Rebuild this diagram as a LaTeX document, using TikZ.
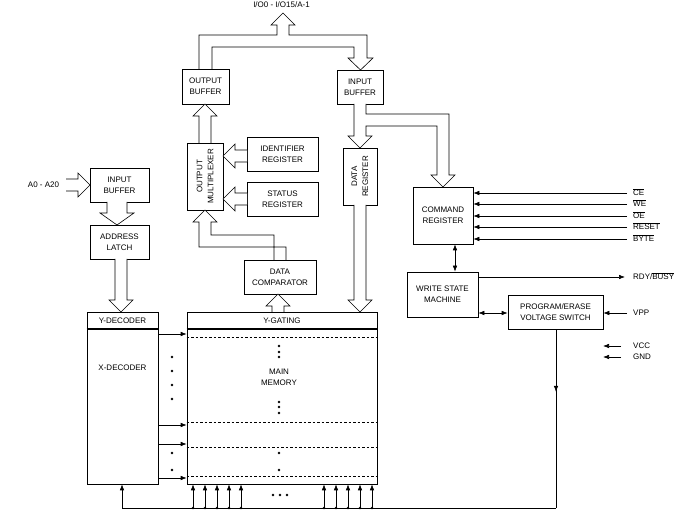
\documentclass[tikz,border=0pt]{standalone}
\usepackage{fontspec}
\setmainfont{Liberation Sans}
\usetikzlibrary{arrows.meta,decorations.markings}
\newcommand{\ovl}[1]{$\overline{\mbox{#1}}$}

\begin{document}
\begin{tikzpicture}[x=1pt,y=-1pt,
  font=\fontsize{8}{11}\selectfont,
  blk/.style={draw,line width=0.6pt,align=center,inner sep=0pt},
  bus/.style={draw,fill=white,line width=0.6pt,line join=miter},
  sig/.style={line width=0.6pt,-{Latex[length=6pt,width=4.5pt]}},
  sigtwo/.style={line width=0.6pt,{Latex[length=6pt,width=4.5pt]}-{Latex[length=6pt,width=4.5pt]}},
  siglabel/.style={anchor=west,inner xsep=6pt,inner ysep=0pt,text height=6pt,text depth=0pt},
  dot/.style={circle,fill,inner sep=0pt,minimum size=2.6pt}]
  \useasboundingbox (0,0) rectangle (686,526);

  % blocks
  \node[blk,minimum width=47pt,minimum height=35pt] (obuf) at (205.5,86.5) {OUTPUT\\BUFFER};
  \node[blk,minimum width=46pt,minimum height=34pt] (ibuf) at (360,87) {INPUT\\BUFFER};
  \node[blk,minimum width=36pt,minimum height=67pt] (omux) at (205,176.5) {};
  \node[rotate=90,align=center] (omuxt) at (omux.center) {OUTPUT\\MULTIPLEXER};
  \node[blk,minimum width=71pt,minimum height=34pt] (idreg) at (282.5,154) {IDENTIFIER\\REGISTER};
  \node[blk,minimum width=71pt,minimum height=34pt] (streg) at (282.5,199) {STATUS\\REGISTER};
  \node[blk,minimum width=72pt,minimum height=34pt] (dcomp) at (280,277) {DATA\\COMPARATOR};
  \node[blk,minimum width=34pt,minimum height=57pt] (dreg) at (360,176.5) {};
  \node[rotate=90,align=center] (dregt) at (dreg.center) {DATA\\REGISTER};
  \node[blk,minimum width=60pt,minimum height=57pt] (creg) at (443,215.5) {COMMAND\\REGISTER};
  \node[blk,minimum width=71pt,minimum height=45pt] (wsm) at (442.5,294.5) {WRITE STATE\\MACHINE};
  \node[blk,minimum width=95pt,minimum height=34pt] (pevs) at (555.5,312) {PROGRAM/ERASE\\VOLTAGE SWITCH};
  \node[blk,minimum width=59pt,minimum height=34pt] (abuf) at (119.5,185) {INPUT\\BUFFER};
  \node[blk,minimum width=59pt,minimum height=34pt] (alatch) at (119.5,242) {ADDRESS\\LATCH};

  % decoders and memory array
  \node[blk,minimum width=71pt,minimum height=172pt] (dec) at (122.5,398) {};
  \node[blk,minimum width=190pt,minimum height=172pt] (mem) at (282,398) {};
  \draw[line width=1.3pt] (dec.west |- 0,329) -- (dec.east |- 0,329);
  \draw[line width=1.3pt] (mem.west |- 0,329) -- (mem.east |- 0,329);
  \node (ydec) at (122.5,320.5) {Y-DECODER};
  \node (xdec) at (122.5,368) {X-DECODER};
  \node (ygat) at (282,320.5) {Y-GATING};
  \node[align=center] (mmem) at (279,377) {MAIN\\MEMORY};
  \foreach \y in {337,422,447,476}
    \draw[line width=0.5pt,dash pattern=on 2.5pt off 2pt] (mem.west |- 0,\y) -- (mem.east |- 0,\y);
  \foreach \y in {334,425,444,478}
    \draw[sig] (dec.east |- 0,\y) -- (mem.west |- 0,\y);
  \foreach \y in {357,371,385,399,453,470}
    \node[dot] (dl\y) at (172,\y) {};
  \foreach \y in {346,352,357,402,407,413,453,470}
    \node[dot] (dm\y) at (279,\y) {};
  \foreach \x in {273,280,287}
    \node[dot] (db\x) at (\x,495) {};

  % hollow buses
  \draw[bus] (199,69) -- (199,35) -- (277,35) -- (277,25) -- (271,25) -- (283,13) -- (295,25)
    -- (289,25) -- (289,35) -- (367,35) -- (367,58) -- (373,58) -- (360.5,70) -- (348,58)
    -- (354,58) -- (354,47) -- (212,47) -- (212,69);
  \node (io) at (281.5,5) {I/O0 - I/O15/A-1};
  \draw[bus] (199,143) -- (199,116) -- (193,116) -- (205,104) -- (217,116) -- (211,116) -- (211,143);
  \draw[bus] (247,150) -- (235,150) -- (235,144) -- (223,156) -- (235,168) -- (235,162) -- (247,162);
  \draw[bus] (247,193) -- (235,193) -- (235,187) -- (223,199) -- (235,211) -- (235,205) -- (247,205);
  \draw[bus] (274,260) -- (274,235) -- (211,235) -- (211,222) -- (217,222) -- (205,210) -- (193,222)
    -- (199,222) -- (199,247) -- (286,247) -- (286,260);
  \draw[bus] (272,312) -- (272,306) -- (266,306) -- (278,294) -- (290,306) -- (284,306) -- (284,312);
  \draw[bus] (354,104) -- (354,136) -- (348,136) -- (360,148) -- (372,136) -- (366,136) -- (366,126)
    -- (437,126) -- (437,175) -- (431,175) -- (443,187) -- (455,175) -- (449,175) -- (449,114)
    -- (366,114) -- (366,104);
  \draw[bus] (354,205) -- (354,300) -- (348,300) -- (360,312) -- (372,300) -- (366,300) -- (366,205);
  \draw[bus] (66,179) -- (78,179) -- (78,173) -- (90,185) -- (78,197) -- (78,191) -- (66,191);
  \node (addr) at (43.5,185) {A0 - A20};
  \draw[bus] (107,202) -- (107,213) -- (100,213) -- (117,225) -- (134,213) -- (127,213) -- (127,202);
  \draw[bus] (115,259) -- (115,300) -- (109,300) -- (121,312) -- (133,300) -- (127,300) -- (127,259);

  % control signals
  \node[siglabel] (ce) at (627,193) {\ovl{CE}};
  \node[siglabel] (we) at (627,204) {\ovl{WE}};
  \node[siglabel] (oe) at (627,216) {\ovl{OE}};
  \node[siglabel] (rst) at (627,227) {\ovl{RESET}};
  \node[siglabel] (byte) at (627,239) {\ovl{BYTE}};
  \foreach \s in {ce,we,oe,rst,byte}
    \draw[sig] (\s.west) -- (\s.west -| creg.east);
  \draw[sigtwo] (creg.south -| 455,0) -- (wsm.north -| 455,0);
  \node[siglabel] (rdy) at (627,277) {RDY/\ovl{BUSY}};
  \draw[sig] (wsm.east |- rdy.west) -- ([xshift=-2pt]rdy.west);
  \draw[sigtwo] (wsm.east |- 0,313) -- (pevs.west |- 0,313);
  \node[siglabel] (vpp) at (627,313) {VPP};
  \draw[sig] (vpp.west) -- (vpp.west -| pevs.east);
  \node[siglabel] (vcc) at (627,346) {VCC};
  \node[siglabel] (gnd) at (627,357) {GND};
  \draw[sig] ([xshift=-6pt]vcc.west) -- ++(-18,0);
  \draw[sig] ([xshift=-6pt]gnd.west) -- ++(-18,0);

  % supply bus along the bottom
  \coordinate (br) at (556,508);
  \coordinate (bl) at (122,508);
  \draw[line width=0.6pt,postaction={decorate},
    decoration={markings,mark=at position 0.35 with {\arrow{Latex[length=6pt,width=4.5pt]}}}]
    (pevs.south -| br) -- (br);
  \draw[line width=0.6pt] (br) -- (bl);
  \draw[sig] (bl) -- (dec.south -| bl);
  \foreach \x in {193,205,217,229,241,324,336,348,360,372} {
    \draw[sig] (bl -| \x,0) -- (mem.south -| \x,0);
    \node[dot] (dj\x) at (bl -| \x,0) {};
  }
\end{tikzpicture}
\end{document}
